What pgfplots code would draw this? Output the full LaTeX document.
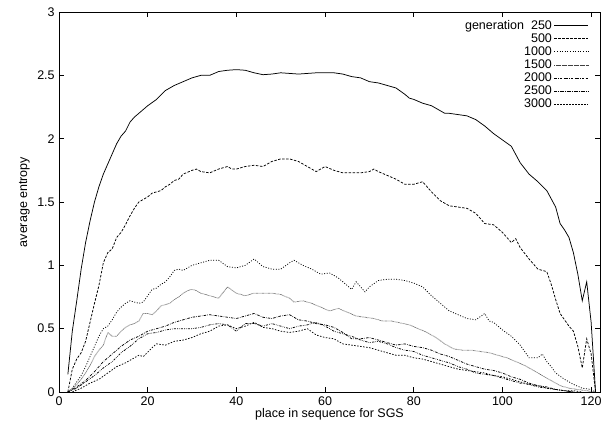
\documentclass[border=0pt]{standalone}
\usepackage{pgfplots}
\pgfplotsset{compat=1.18}
\usepackage{fontspec}
\setmainfont{Liberation Sans}
\begin{document}
\fontsize{12.5}{15}\selectfont
\begin{tikzpicture}
\path[use as bounding box] (-59pt,-38pt) rectangle (551pt,392pt);
\begin{axis}[
  at={(0,0)}, anchor=south west,
  scale only axis, width=541pt, height=380pt,
  xmin=0, xmax=122, ymin=0, ymax=3,
  xtick={0,20,...,120}, ytick={0,0.5,...,3},
  tick align=inside, tick pos=both,
  major tick length=5pt,
  /pgf/number format/assume math mode=true,
  yticklabel style={/pgf/number format/fixed},
  xlabel={place in sequence for SGS},
  ylabel={average entropy},
  xlabel style={yshift=5pt},
  ylabel style={yshift=-1pt},
  axis line style={line width=0.8pt},
  every tick/.style={black, line width=0.6pt},
  legend plot pos=right,
  legend cell align=right,
  legend style={at={(0.985,0.99)}, anchor=north east, draw=none, fill=none,
    row sep=-1.5pt, font=\fontsize{12.5}{15}\selectfont},
  legend image code/.code={\draw[#1] (0pt,0pt) -- (34pt,0pt);},
  every axis plot/.append style={line width=0.75pt, black},
]
\addplot[solid] coordinates {(2,0.14)(3,0.48)(4,0.72)(5,0.97)(6,1.18)(7,1.35)(8,1.50)(9,1.62)(10,1.72)(11,1.80)(12,1.88)(13,1.96)(14,2.02)(15,2.06)(16,2.13)(17,2.17)(18,2.20)(19,2.23)(20,2.26)(22,2.31)(24,2.38)(26,2.42)(28,2.45)(30,2.48)(32,2.50)(34,2.50)(36,2.53)(38,2.54)(40,2.545)(42,2.54)(44,2.52)(46,2.505)(48,2.51)(50,2.52)(52,2.515)(54,2.51)(56,2.515)(58,2.52)(60,2.52)(62,2.52)(64,2.51)(66,2.49)(68,2.48)(70,2.45)(72,2.44)(74,2.42)(76,2.40)(78,2.35)(79,2.32)(80,2.31)(82,2.28)(84,2.26)(86,2.22)(87,2.20)(88,2.20)(90,2.19)(92,2.18)(94,2.15)(96,2.10)(98,2.04)(100,1.99)(102,1.94)(104,1.81)(106,1.72)(108,1.66)(110,1.59)(112,1.46)(113,1.33)(114,1.28)(115,1.22)(116,1.10)(117,0.93)(118,0.72)(119,0.87)(120,0.55)(121,0.0)};
\addlegendentry{generation\ \ 250}
\addplot[dash pattern=on 2.5pt off 1.5pt] coordinates {(2,0.0)(3,0.18)(4,0.26)(5,0.31)(6,0.40)(7,0.55)(8,0.70)(9,0.84)(10,1.02)(11,1.10)(12,1.13)(13,1.22)(14,1.26)(15,1.32)(16,1.39)(17,1.45)(18,1.50)(19,1.52)(20,1.54)(21,1.57)(22,1.58)(23,1.59)(24,1.62)(25,1.64)(26,1.67)(27,1.68)(28,1.72)(30,1.75)(31,1.76)(32,1.74)(34,1.73)(36,1.76)(38,1.78)(39,1.76)(40,1.76)(42,1.78)(44,1.79)(46,1.78)(48,1.82)(50,1.84)(52,1.84)(54,1.82)(56,1.78)(58,1.74)(60,1.78)(62,1.75)(64,1.73)(66,1.73)(68,1.73)(70,1.74)(71,1.76)(72,1.74)(74,1.71)(76,1.68)(78,1.64)(80,1.64)(82,1.66)(84,1.58)(86,1.51)(88,1.47)(90,1.46)(92,1.45)(94,1.41)(96,1.33)(98,1.32)(100,1.26)(102,1.18)(103,1.21)(104,1.14)(106,1.05)(108,0.97)(110,0.95)(111,0.85)(112,0.73)(113,0.62)(114,0.57)(115,0.52)(116,0.48)(117,0.36)(118,0.19)(119,0.42)(120,0.30)(121,0.0)};
\addlegendentry{500}
\addplot[dash pattern=on 1pt off 1.6pt] coordinates {(2,0.0)(3,0.03)(4,0.08)(5,0.13)(6,0.20)(7,0.28)(8,0.36)(9,0.44)(10,0.50)(11,0.52)(12,0.57)(13,0.63)(14,0.67)(15,0.70)(16,0.72)(17,0.71)(18,0.70)(19,0.71)(20,0.76)(21,0.81)(22,0.82)(23,0.85)(24,0.87)(25,0.91)(26,0.96)(27,0.97)(28,0.96)(29,0.98)(30,1.00)(32,1.02)(34,1.04)(36,1.04)(38,0.99)(40,0.98)(42,1.00)(44,1.05)(46,0.99)(48,0.97)(50,0.97)(52,1.02)(53,1.04)(55,1.00)(57,0.97)(59,0.93)(61,0.94)(63,0.90)(64,0.87)(66,0.81)(67,0.87)(69,0.79)(70,0.83)(72,0.88)(74,0.89)(76,0.89)(78,0.88)(80,0.86)(82,0.83)(84,0.76)(86,0.70)(88,0.64)(90,0.61)(92,0.58)(94,0.57)(96,0.62)(97,0.56)(98,0.55)(100,0.49)(102,0.44)(104,0.37)(106,0.27)(108,0.27)(109,0.30)(110,0.24)(111,0.20)(112,0.15)(114,0.10)(116,0.06)(118,0.03)(120,0.02)(121,0.0)};
\addlegendentry{1000}
\addplot[dash pattern=on 0.45pt off 0.75pt, black!75] coordinates {(2,0.0)(3,0.02)(4,0.06)(5,0.10)(6,0.15)(7,0.21)(8,0.28)(9,0.33)(10,0.37)(11,0.47)(12,0.44)(13,0.44)(14,0.48)(15,0.51)(16,0.53)(17,0.54)(18,0.56)(19,0.62)(20,0.62)(21,0.61)(22,0.64)(23,0.68)(24,0.69)(25,0.70)(26,0.73)(27,0.75)(28,0.78)(29,0.80)(30,0.81)(31,0.80)(32,0.78)(34,0.76)(36,0.74)(38,0.83)(40,0.78)(42,0.76)(44,0.78)(46,0.78)(48,0.78)(50,0.77)(52,0.74)(53,0.71)(55,0.72)(57,0.70)(59,0.67)(61,0.64)(63,0.66)(65,0.63)(67,0.60)(69,0.59)(71,0.58)(73,0.56)(75,0.56)(77,0.545)(79,0.53)(81,0.50)(83,0.47)(85,0.43)(87,0.38)(89,0.34)(91,0.33)(93,0.33)(95,0.32)(97,0.31)(99,0.29)(101,0.27)(103,0.24)(105,0.21)(107,0.17)(109,0.13)(111,0.09)(113,0.05)(115,0.03)(117,0.02)(119,0.01)(121,0.0)};
\addlegendentry{1500}
\addplot[dash pattern=on 2.5pt off 1.2pt on 0.6pt off 1.2pt] coordinates {(2,0.0)(4,0.04)(6,0.09)(8,0.16)(10,0.24)(12,0.30)(14,0.36)(16,0.41)(18,0.44)(20,0.48)(22,0.50)(24,0.52)(26,0.55)(28,0.57)(30,0.59)(32,0.60)(34,0.61)(36,0.60)(38,0.59)(40,0.58)(42,0.60)(44,0.62)(46,0.59)(48,0.58)(50,0.60)(52,0.61)(54,0.57)(56,0.56)(58,0.54)(60,0.53)(62,0.51)(64,0.47)(66,0.42)(68,0.42)(70,0.43)(72,0.41)(74,0.39)(76,0.37)(78,0.38)(80,0.36)(82,0.35)(84,0.33)(86,0.30)(88,0.28)(90,0.25)(92,0.22)(94,0.20)(96,0.18)(98,0.17)(100,0.15)(102,0.12)(104,0.10)(106,0.07)(108,0.05)(110,0.04)(112,0.02)(114,0.01)(116,0.0)};
\addlegendentry{2000}
\addplot[dash pattern=on 2.2pt off 1.2pt on 0.6pt off 1.2pt on 0.6pt off 1.2pt] coordinates {(2,0.0)(4,0.03)(6,0.08)(8,0.13)(10,0.19)(12,0.24)(14,0.31)(16,0.36)(18,0.42)(20,0.46)(22,0.47)(24,0.49)(26,0.50)(28,0.50)(30,0.50)(32,0.51)(34,0.53)(36,0.54)(38,0.53)(40,0.48)(42,0.54)(44,0.54)(46,0.52)(48,0.54)(50,0.52)(52,0.50)(54,0.52)(56,0.53)(58,0.55)(60,0.52)(62,0.48)(64,0.46)(66,0.44)(68,0.41)(70,0.39)(72,0.40)(74,0.38)(76,0.35)(78,0.33)(80,0.32)(82,0.29)(84,0.27)(86,0.25)(88,0.23)(90,0.20)(92,0.18)(94,0.15)(96,0.14)(98,0.13)(100,0.11)(102,0.09)(104,0.07)(106,0.06)(108,0.04)(110,0.03)(112,0.02)(114,0.01)(116,0.0)};
\addlegendentry{2500}
\addplot[dash pattern=on 1.5pt off 1.5pt] coordinates {(3,0.0)(5,0.03)(7,0.07)(9,0.10)(11,0.15)(13,0.20)(15,0.23)(16,0.25)(18,0.29)(19,0.28)(21,0.35)(22,0.38)(24,0.37)(26,0.40)(28,0.41)(30,0.43)(32,0.46)(34,0.48)(36,0.52)(38,0.53)(40,0.50)(42,0.52)(44,0.55)(46,0.51)(48,0.50)(50,0.48)(52,0.47)(54,0.48)(56,0.50)(58,0.45)(60,0.43)(62,0.42)(64,0.38)(66,0.37)(68,0.36)(70,0.35)(72,0.33)(74,0.31)(76,0.29)(78,0.29)(80,0.27)(82,0.26)(84,0.24)(86,0.22)(88,0.20)(90,0.18)(92,0.17)(94,0.16)(96,0.15)(98,0.13)(100,0.12)(102,0.10)(104,0.08)(106,0.06)(108,0.05)(110,0.03)(112,0.02)(114,0.01)(116,0.01)(118,0.0)};
\addlegendentry{3000}
\end{axis}
\end{tikzpicture}
\end{document}
